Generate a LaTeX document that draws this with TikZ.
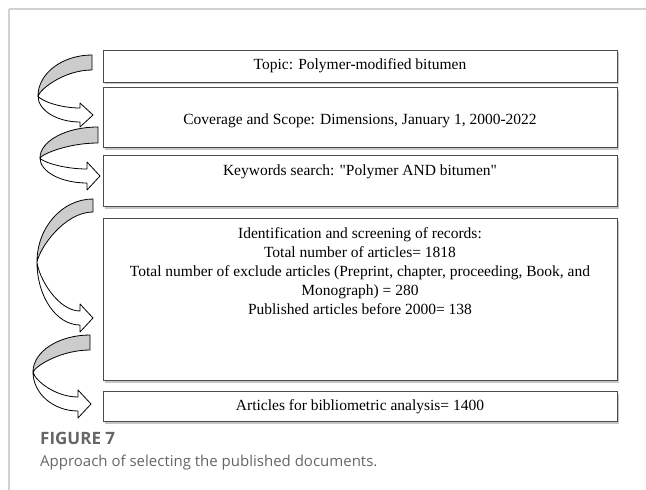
\documentclass[tikz,border=0pt]{standalone}
\usepackage{fontspec}
\newfontfamily\capfont{Open Sans}
\newfontfamily\boxfont{Liberation Serif}
\usetikzlibrary{positioning}
\usetikzlibrary{shadows}
\tikzset{stage/.style={draw=black!70, line width=0.9pt, fill=white,
    minimum width=514pt, inner sep=0pt, align=center,
    font=\boxfont\fontsize{15.5}{19}\selectfont,
    drop shadow={shadow xshift=2pt, shadow yshift=-2pt, opacity=0.45}}}
\tikzset{turn/.style={draw=black, line width=0.8pt, line join=round}}
\tikzset{turnin/.style={turn, fill=gray!40}}
\tikzset{turnout/.style={turn, fill=white}}
\tikzset{rule/.style={draw=black!18, line width=1.2pt}}
% #1 end x, #2/#3 end top/bottom, #4/#5 leftmost point, #6/#7 tip, #8 half head
\newcommand\turnarrow[8]{%
  \draw[turnout] (#4,#5)
    .. controls (#4,{#5+0.55*(#7+7-#5)}) and ({#6-13-0.55*(#6-13-#4)},{#7+7}) .. ({#6-13},{#7+7})
    -- ({#6-13},{#7+#8}) -- (#6,#7) -- ({#6-13},{#7-#8}) -- ({#6-13},{#7-7})
    .. controls ({#6-13-0.5*(#6-13-#4)},{#7-7}) and ({#4+2},{#5+0.35*(#7-7-#5)}) .. (#4,#5)
    -- cycle;
  \draw[turnin] (#1,#2)
    .. controls ({#1-0.55*(#1-#4)},#2) and (#4,{#5-0.55*(#5-#2)}) .. (#4,#5)
    .. controls ({#4+3},{#5-0.3*(#5-#3)}) and ({#1-0.5*(#1-#4)},#3) .. (#1,#3)
    -- cycle;
}

\begin{document}
\begin{tikzpicture}[x=1pt, y=-1pt]
\useasboundingbox (0,0) rectangle (646,490);
\draw[rule] (9,9) -- (646,9);
\draw[rule] (9,9) -- (9,490);

\node[stage, minimum height=32pt] (topic) at (360,66) {Topic: Polymer-modified bitumen};
\node[stage, minimum height=60pt, below=5pt of topic] (scope)
  {\raisebox{0pt}[\dimexpr\height+6pt][\depth]{Coverage and Scope: Dimensions, January 1, 2000-2022}};
\node[stage, minimum height=51pt, below=7pt of scope] (keywords)
  {\raisebox{0pt}[\height][\dimexpr\depth+19pt]{Keywords search: "Polymer AND bitumen"}};
\node[stage, minimum height=162pt, below=11pt of keywords] (screening)
  {\raisebox{0pt}[\height][\dimexpr\depth+54pt]{\begin{tabular}{@{}c@{}}
   Identification and screening of records:\\
   Total number of articles= 1818\\
   Total number of exclude articles (Preprint, chapter, proceeding, Book, and\\
   Monograph) = 280\\
   Published articles before 2000= 138\end{tabular}}};
\node[stage, minimum height=30pt, below=10pt of screening] (analysis)
  {Articles for bibliometric analysis= 1400};

\turnarrow{92}{55}{70}{38}{96}{93}{115}{12}
\turnarrow{98}{127}{143}{40}{158}{100}{176}{14}
\turnarrow{93}{199}{212}{37}{262}{93}{318}{14}
\turnarrow{90}{335}{350}{33}{372}{91}{404}{14}

\node[anchor=west, inner sep=0pt, text=black!60,
  font=\capfont\bfseries\fontsize{17}{20}\selectfont] (fig) at (40,438) {FIGURE 7};
\node[anchor=west, inner sep=0pt, text=black!60,
  font=\capfont\fontsize{15}{20}\selectfont] (caption) at (40,463)
  {Approach of selecting the published documents.};
\end{tikzpicture}
\end{document}
